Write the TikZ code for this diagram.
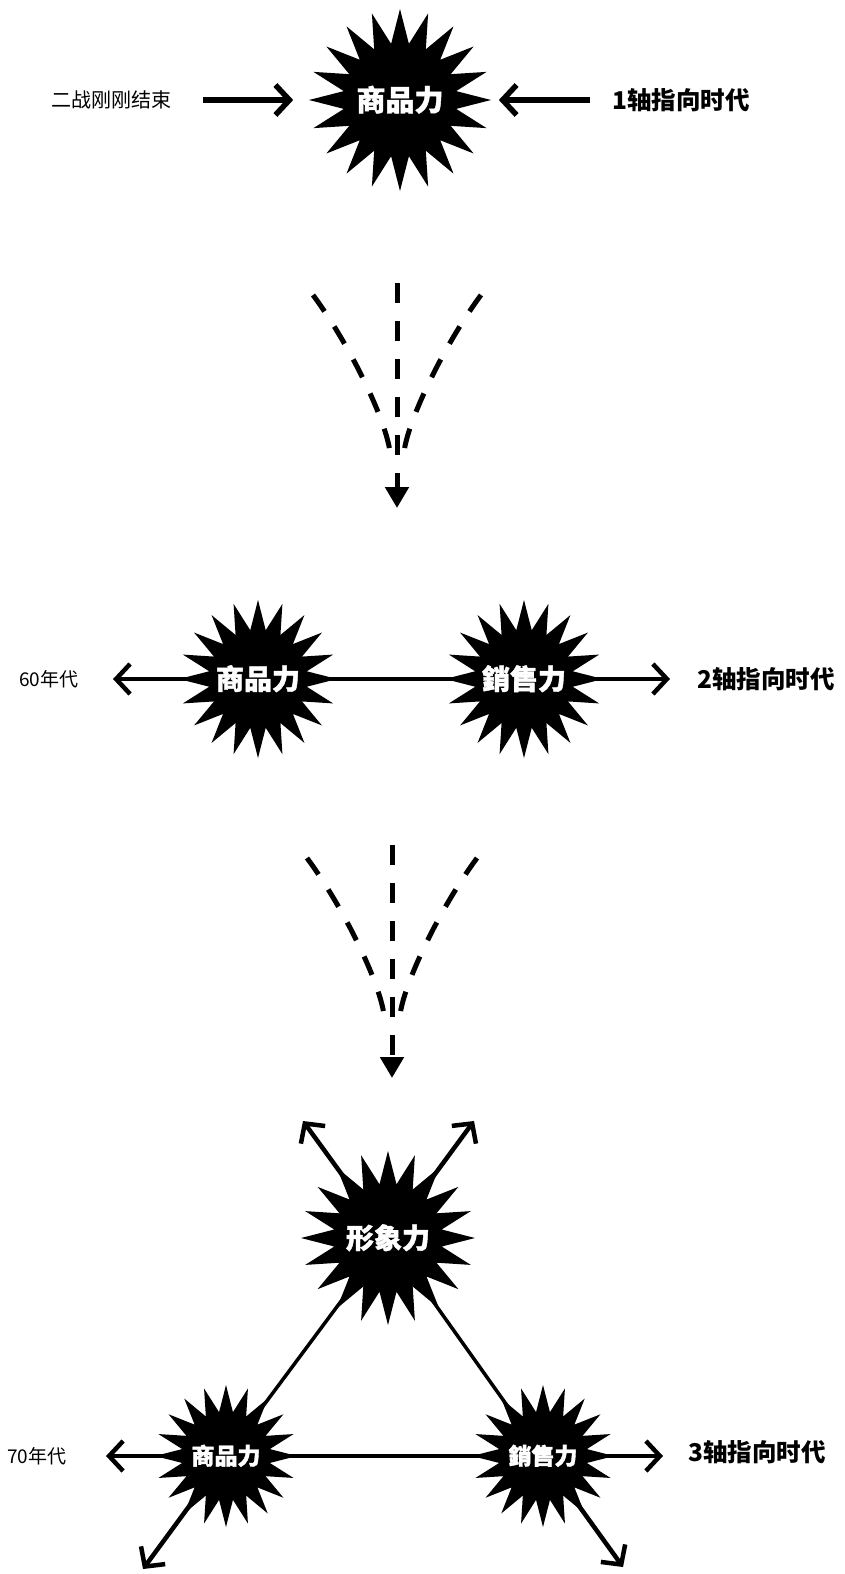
\documentclass[tikz,border=0pt]{standalone}
\usepackage{fontspec}
\usetikzlibrary{shapes.geometric,arrows.meta}
\newfontfamily\cjk{Noto Sans CJK SC}
\newfontfamily\cjkstar{Noto Sans CJK SC}[BoldFeatures={FakeBold=1.5}]
\pgfdeclarelayer{bg}
\pgfsetlayers{bg,main}
\newcommand{\bursttext}[1]{\smash{\makebox[0pt]{\raisebox{-0.37em}{#1}}}}
\tikzset{
  burst/.style={star, star points=20, star point ratio=1.6, fill=black, draw=none,
    inner sep=0pt, text=white, font=\cjkstar\bfseries\fontsize{29}{29}\selectfont},
  smallburst/.style={burst, font=\cjkstar\bfseries\fontsize{23}{23}\selectfont},
  lab/.style={inner sep=0pt, anchor=west, font=\cjk\fontsize{20}{20}\selectfont},
  yearlab/.style={inner sep=0pt, anchor=west, font=\cjk\fontsize{19}{19}\selectfont},
  labb/.style={inner sep=0pt, anchor=west, font=\cjk\bfseries\fontsize{24.5}{24.5}\selectfont},
  arr/.style={line width=5.5pt, -{Straight Barb[length=14pt,width=30pt]}},
  arrthin/.style={line width=4.5pt, -{Straight Barb[length=14pt,width=30pt]}},
  link/.style={line width=4pt},
  tline/.style={line width=3.5pt},
  fan/.style={line width=5pt, dash pattern=on 20pt off 18pt},
  fanarrow/.style={fan, -{Triangle[length=21pt,width=23pt]}}
}
\begin{document}
\begin{tikzpicture}[x=1pt,y=-1pt]
\useasboundingbox (0,0) rectangle (845,1574);
\begin{pgfonlayer}{bg}
\fill[white] (0,0) rectangle (845,1574);
\end{pgfonlayer}

% ---------- top ----------
\node[burst, minimum size=182pt] (s1) at (400,100) {\bursttext{商品力}};
\node[lab] (l1) at (51,100) {二战刚刚结束};
\node[labb] (r1) at (612,100) {1轴指向时代};
\coordinate (a1) at (203,100);
\coordinate (a2) at (590,100);
\draw[arr, shorten >=15pt] (a1) -- (s1.west);
\draw[arr, shorten >=7pt] (a2) -- (s1.east);

% ---------- fan 1 ----------
\coordinate (f1c0) at (397,283);
\coordinate (f1tip) at (397,508);
\coordinate (f1l0) at (313,295);
\coordinate (f1l1) at (390,452);
\coordinate (f1r0) at (481,295);
\coordinate (f1r1) at (404,452);
\draw[fanarrow] (f1c0) -- (f1tip);
\draw[fan] (f1l0) .. controls (350,345) and (386,420) .. (f1l1);
\draw[fan] (f1r0) .. controls (444,345) and (408,420) .. (f1r1);

% ---------- middle ----------
\node[burst, minimum size=158pt, font=\cjkstar\bfseries\fontsize{28}{28}\selectfont] (m1) at (258,679) {\bursttext{商品力}};
\node[burst, minimum size=158pt, font=\cjkstar\bfseries\fontsize{28}{28}\selectfont] (m2) at (524,679) {\bursttext{銷售力}};
\coordinate (m1t) at (113,679);
\coordinate (m2t) at (670,679);
\begin{pgfonlayer}{bg}
\draw[link] (m1.center) -- (m2.center);
\draw[arrthin] (m1.center) -- (m1t);
\draw[arrthin] (m2.center) -- (m2t);
\end{pgfonlayer}
\node[yearlab] (y60) at (19,679) {60年代};
\node[labb] (r2) at (697,679) {2轴指向时代};

% ---------- fan 2 ----------
\coordinate (f2c0) at (392,845);
\coordinate (f2tip) at (392,1078);
\coordinate (f2l0) at (307,858);
\coordinate (f2l1) at (384,1015);
\coordinate (f2r0) at (477,858);
\coordinate (f2r1) at (400,1015);
\draw[fanarrow] (f2c0) -- (f2tip);
\draw[fan] (f2l0) .. controls (344,908) and (380,983) .. (f2l1);
\draw[fan] (f2r0) .. controls (440,908) and (404,983) .. (f2r1);

% ---------- bottom ----------
\node[burst, minimum size=174pt, font=\cjkstar\bfseries\fontsize{28}{28}\selectfont] (t) at (388,1238) {\bursttext{形象力}};
\node[smallburst, minimum size=142pt] (bl) at (226,1456) {\bursttext{商品力}};
\node[smallburst, minimum size=142pt] (br) at (543,1456) {\bursttext{銷售力}};
\coordinate (ul) at (303,1121);
\coordinate (ur) at (474,1121);
\coordinate (ll) at (143,1569);
\coordinate (lr) at (623,1567);
\coordinate (lt) at (106,1456);
\coordinate (rt) at (663,1456);
\begin{pgfonlayer}{bg}
\draw[tline] (t.center) -- (bl.center);
\draw[tline] (t.center) -- (br.center);
\draw[link] (bl.center) -- (br.center);
\draw[arrthin] (t.center) -- (ul);
\draw[arrthin] (t.center) -- (ur);
\draw[arrthin] (bl.center) -- (ll);
\draw[arrthin] (br.center) -- (lr);
\draw[arrthin] (bl.center) -- (lt);
\draw[arrthin] (br.center) -- (rt);
\end{pgfonlayer}
\node[yearlab] (y70) at (7,1456) {70年代};
\node[labb] (r3) at (688,1452) {3轴指向时代};
\end{tikzpicture}
\end{document}
